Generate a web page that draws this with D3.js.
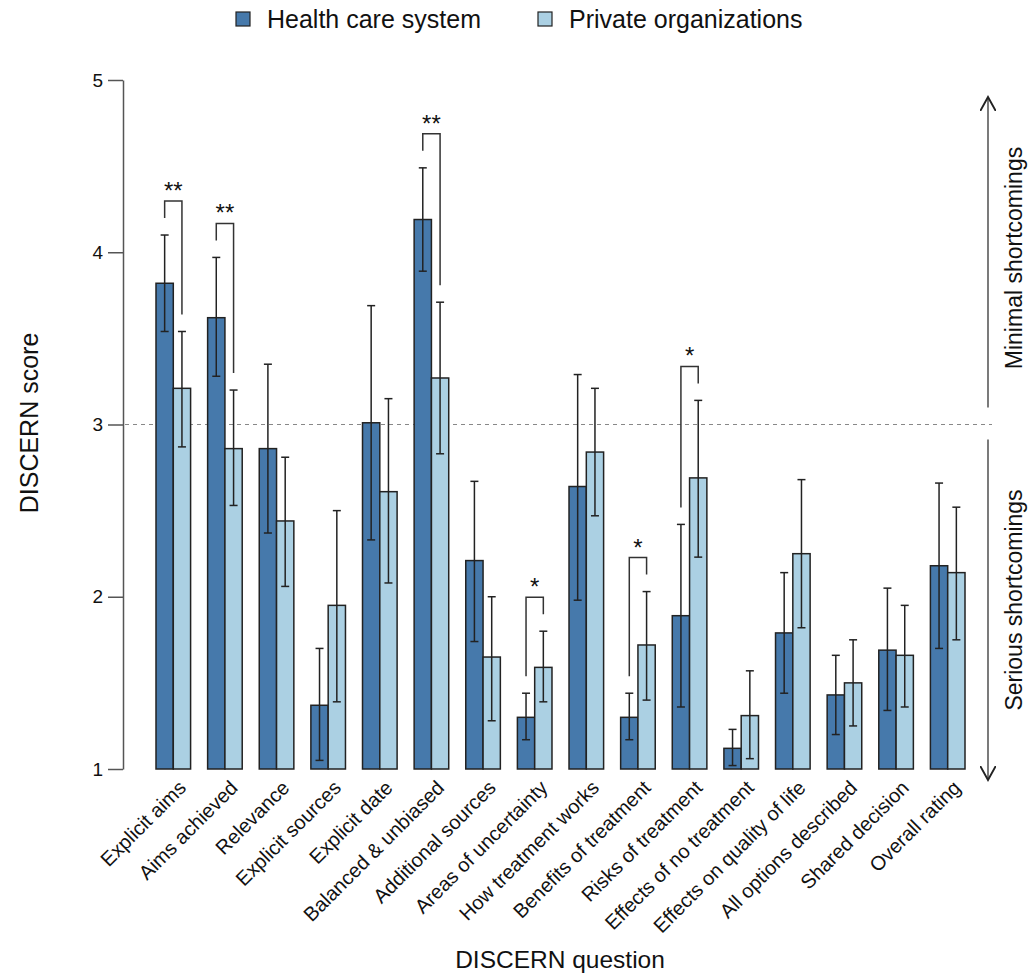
<!DOCTYPE html>
<html>
<head>
<meta charset="utf-8">
<script src="https://cdn.jsdelivr.net/npm/d3@7"></script>
<style>
  body { margin: 0; background: #fff; }
  text { font-family: "Liberation Sans", Arial, sans-serif; fill: #111; }
</style>
</head>
<body>
<svg id="chart" width="1030" height="974"></svg>
<script>
// DISCERN questions
var questions = ["Explicit aims", "Aims achieved", "Relevance", "Explicit sources", "Explicit date",
    "Balanced & unbiased", "Additional sources", "Areas of uncertainty", "How treatment works",
    "Benefits of treatment", "Risks of treatment", "Effects of no treatment",
    "Effects on quality of life", "All options described", "Shared decision", "Overall rating"];

var seriesNames = ["Health care system", "Private organizations"];

// mean scores
var healthMean  = [3.82, 3.62, 2.86, 1.37, 3.01, 4.19, 2.21, 1.30, 2.64, 1.30, 1.89, 1.12, 1.79, 1.43, 1.69, 2.18];
var privateMean = [3.21, 2.86, 2.44, 1.95, 2.61, 3.27, 1.65, 1.59, 2.84, 1.72, 2.69, 1.31, 2.25, 1.50, 1.66, 2.14];

// error bar ends
var healthHi  = [4.10, 3.97, 3.35, 1.70, 3.69, 4.49, 2.67, 1.44, 3.29, 1.44, 2.42, 1.23, 2.14, 1.66, 2.05, 2.66];
var healthLo  = [3.54, 3.28, 2.37, 1.05, 2.33, 3.89, 1.74, 1.17, 1.98, 1.17, 1.36, 1.02, 1.44, 1.20, 1.34, 1.70];
var privateHi = [3.54, 3.20, 2.81, 2.50, 3.15, 3.71, 2.00, 1.80, 3.21, 2.03, 3.14, 1.57, 2.68, 1.75, 1.95, 2.52];
var privateLo = [2.87, 2.53, 2.06, 1.39, 2.08, 2.83, 1.28, 1.39, 2.47, 1.40, 2.23, 1.06, 1.82, 1.25, 1.36, 1.75];

// significance marks
var signif = ["**", "**", "", "", "", "**", "", "*", "", "*", "*", "", "", "", "", ""];

var yTicks = [1, 2, 3, 4, 5];
var threshold = 3;

var colors = ["#4679ab", "#abd0e3"];

var svg = d3.select("#chart");

var x = d3.scaleBand().domain(questions).range([156, 965]).paddingInner(0.33).paddingOuter(0);
var xs = d3.scaleBand().domain([0, 1]).range([0, x.bandwidth()]).padding(0);
var y = d3.scaleLinear().domain([1, 5]).range([769, 80]);

var rows = questions.map(function (q, i) {
    return {
        q: q, sig: signif[i],
        vals: [
            {s: 0, mean: healthMean[i], hi: healthHi[i], lo: healthLo[i]},
            {s: 1, mean: privateMean[i], hi: privateHi[i], lo: privateLo[i]}
        ]
    };
});

// y axis
var yAxis = svg.append("g")
    .attr("transform", "translate(123,0)")
    .call(d3.axisLeft(y).tickValues(yTicks).tickFormat(d3.format("d")).tickSize(15).tickPadding(5).tickSizeOuter(0));
yAxis.select(".domain").attr("stroke", "#555").attr("stroke-width", 1.5);
yAxis.selectAll(".tick line").attr("stroke", "#555").attr("stroke-width", 1.5);
yAxis.selectAll(".tick text").attr("font-size", 19).attr("font-family", "Liberation Sans, Arial, sans-serif").attr("fill", "#111");

// threshold line
svg.append("line")
    .attr("x1", 125).attr("x2", 992)
    .attr("y1", y(threshold)).attr("y2", y(threshold))
    .attr("stroke", "#888").attr("stroke-width", 1.2).attr("stroke-dasharray", "4,4");

var groups = svg.selectAll(".grp").data(rows).enter().append("g")
    .attr("class", "grp")
    .attr("transform", function (d) { return "translate(" + x(d.q) + ",0)"; });

groups.selectAll("rect").data(function (d) { return d.vals; }).enter().append("rect")
    .attr("x", function (d) { return xs(d.s); })
    .attr("y", function (d) { return y(d.mean); })
    .attr("width", xs.bandwidth())
    .attr("height", function (d) { return y(1) - y(d.mean); })
    .attr("fill", function (d) { return colors[d.s]; })
    .attr("stroke", "#222").attr("stroke-width", 1.5);

// error bars
var err = groups.selectAll(".err").data(function (d) { return d.vals; }).enter().append("g")
    .attr("class", "err")
    .attr("stroke", "#222").attr("stroke-width", 1.5);
err.append("line")
    .attr("x1", function (d) { return xs(d.s) + xs.bandwidth() / 2; })
    .attr("x2", function (d) { return xs(d.s) + xs.bandwidth() / 2; })
    .attr("y1", function (d) { return y(d.hi); })
    .attr("y2", function (d) { return y(d.lo); });
["hi", "lo"].forEach(function (k) {
    err.append("line")
        .attr("x1", function (d) { return xs(d.s) + xs.bandwidth() / 2 - 4; })
        .attr("x2", function (d) { return xs(d.s) + xs.bandwidth() / 2 + 4; })
        .attr("y1", function (d) { return y(d[k]); })
        .attr("y2", function (d) { return y(d[k]); });
});

// significance brackets
var sigGroups = groups.filter(function (d) { return d.sig !== ""; });
sigGroups.append("path")
    .attr("fill", "none").attr("stroke", "#333").attr("stroke-width", 1.5)
    .attr("d", function (d) {
        var cx0 = xs(0) + xs.bandwidth() / 2, cx1 = xs(1) + xs.bandwidth() / 2;
        var top = Math.min(y(d.vals[0].hi), y(d.vals[1].hi)) - 34;
        return "M" + cx0 + "," + (y(d.vals[0].hi) - 17) + "V" + top + "H" + cx1 + "V" + (y(d.vals[1].hi) - 17);
    });
sigGroups.append("text")
    .attr("x", x.bandwidth() / 2)
    .attr("y", function (d) { return Math.min(y(d.vals[0].hi), y(d.vals[1].hi)) - 34 - 2; })
    .attr("text-anchor", "middle").attr("font-size", 24)
    .text(function (d) { return d.sig; });

// x labels
svg.append("g").selectAll("text").data(questions).enter().append("text")
    .attr("transform", function (d) { return "translate(" + (x(d) + x.bandwidth() / 2 + 4) + ",779) rotate(-45)"; })
    .attr("text-anchor", "end").attr("dy", "0.71em").attr("font-size", 20)
    .text(function (d) { return d; });

// axis titles
svg.append("text").attr("x", 560).attr("y", 968).attr("text-anchor", "middle").attr("font-size", 24.5)
    .text("DISCERN question");
svg.append("text").attr("transform", "translate(38,423) rotate(-90)").attr("text-anchor", "middle").attr("font-size", 25)
    .text("DISCERN score");

// legend
var legend = svg.append("g");
var legX = [236, 538];
seriesNames.forEach(function (n, i) {
    legend.append("rect").attr("x", legX[i]).attr("y", 12).attr("width", 14).attr("height", 14)
        .attr("fill", colors[i]).attr("stroke", "#222").attr("stroke-width", 1.2);
    legend.append("text").attr("x", legX[i] + 31).attr("y", 28).attr("font-size", 25).text(n);
});

// shortcomings arrows
var defs = svg.append("defs");
defs.append("marker").attr("id", "arr").attr("viewBox", "0 0 10 10").attr("refX", 9).attr("refY", 5)
    .attr("markerWidth", 16).attr("markerHeight", 16).attr("markerUnits", "userSpaceOnUse").attr("orient", "auto")
    .append("path").attr("d", "M0,0L9,5L0,10").attr("fill", "none").attr("stroke", "#222").attr("stroke-width", 1.2);
svg.append("line").attr("x1", 988).attr("x2", 988).attr("y1", y(threshold) - 17).attr("y2", 97)
    .attr("stroke", "#222").attr("stroke-width", 1.2).attr("marker-end", "url(#arr)");
svg.append("line").attr("x1", 988).attr("x2", 988).attr("y1", y(threshold) + 15).attr("y2", 780)
    .attr("stroke", "#222").attr("stroke-width", 1.2).attr("marker-end", "url(#arr)");
svg.append("text").attr("transform", "translate(1022,258) rotate(-90)").attr("text-anchor", "middle").attr("font-size", 23)
    .text("Minimal shortcomings");
svg.append("text").attr("transform", "translate(1022,600) rotate(-90)").attr("text-anchor", "middle").attr("font-size", 23)
    .text("Serious shortcomings");
</script>
</body>
</html>
